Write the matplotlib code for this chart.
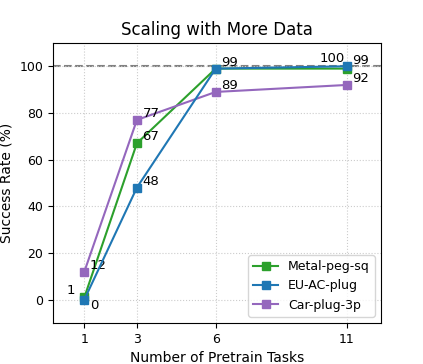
import matplotlib
matplotlib.use('Agg')
import matplotlib.pyplot as plt

tasks = [1, 3, 6, 11]
metal_peg = [1, 67, 99, 99]
eu_ac = [0, 48, 99, 100]
car_plug = [12, 77, 89, 92]

fig = plt.figure(figsize=(4.23, 3.64), dpi=100)
ax = fig.add_axes([0.125, 0.113, 0.776, 0.769])

ax.axhline(100, color='gray', linestyle='--', linewidth=1.5, zorder=1)
ax.plot(tasks, metal_peg, '-s', color='#2ca02c', label='Metal-peg-sq', markersize=6, zorder=3)
ax.plot(tasks, eu_ac, '-s', color='#1f77b4', label='EU-AC-plug', markersize=6, zorder=4)
ax.plot(tasks, car_plug, '-s', color='#9467bd', label='Car-plug-3p', markersize=6, zorder=3)

fs = 9.5
# value labels
ax.annotate(str(metal_peg[0]), (tasks[0], metal_peg[0]), xytext=(-10, 2), textcoords='offset points', fontsize=fs, ha='center')
ax.annotate(str(eu_ac[0]), (tasks[0], eu_ac[0]), xytext=(7, -7), textcoords='offset points', fontsize=fs, ha='center')
ax.annotate(str(car_plug[0]), (tasks[0], car_plug[0]), xytext=(4, 2), textcoords='offset points', fontsize=fs)
for s in (metal_peg, eu_ac, car_plug):
    ax.annotate(str(s[1]), (tasks[1], s[1]), xytext=(4, 2), textcoords='offset points', fontsize=fs)
ax.annotate(str(metal_peg[2]), (tasks[2], metal_peg[2]), xytext=(4, 2), textcoords='offset points', fontsize=fs)
ax.annotate(str(car_plug[2]), (tasks[2], car_plug[2]), xytext=(4, 2), textcoords='offset points', fontsize=fs)
ax.annotate(str(eu_ac[3]), (tasks[3], eu_ac[3]), xytext=(-20, 3), textcoords='offset points', fontsize=fs)
ax.annotate(str(metal_peg[3]), (tasks[3], metal_peg[3]), xytext=(4, 3), textcoords='offset points', fontsize=fs)
ax.annotate(str(car_plug[3]), (tasks[3], car_plug[3]), xytext=(4, 2), textcoords='offset points', fontsize=fs)

ax.set_xlim(-0.2, 12.3)
ax.set_ylim(-10, 110)
ax.set_xticks(tasks)
ax.set_yticks([0, 20, 40, 60, 80, 100])
ax.tick_params(labelsize=9)
ax.grid(True, linestyle=':', linewidth=0.8, color='#cccccc')
ax.set_xlabel('Number of Pretrain Tasks', fontsize=10)
ax.set_ylabel('Success Rate (%)', fontsize=10)
ax.set_title('Scaling with More Data', fontsize=12)
ax.legend(loc='lower right', fontsize=9)

fig.savefig('out.png', dpi=100)
